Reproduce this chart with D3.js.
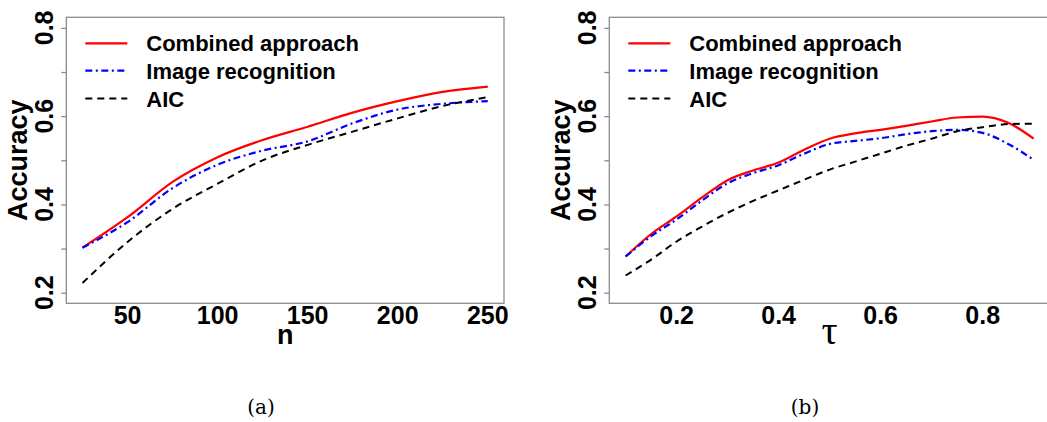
<!DOCTYPE html>
<html>
<head>
<meta charset="utf-8">
<script src="https://cdn.jsdelivr.net/npm/d3@7"></script>
<style>
  html, body { margin: 0; padding: 0; background: #fff; }
  svg { display: block; }
</style>
</head>
<body>
<svg id="chart" width="1047" height="422"></svg>
<script>
// ---- data: accuracy vs sample size n (panel a) ----
const nValues = [25, 50, 75, 100, 125, 150, 175, 200, 225, 250];
const combinedByN = [0.302, 0.371, 0.451, 0.507, 0.546, 0.576, 0.608, 0.634, 0.655, 0.667];
const imageByN    = [0.302, 0.360, 0.437, 0.490, 0.522, 0.543, 0.584, 0.615, 0.628, 0.634];
const aicByN      = [0.222, 0.315, 0.390, 0.447, 0.500, 0.535, 0.565, 0.595, 0.623, 0.643];

// ---- data: accuracy vs threshold tau (panel b) ----
const tauValues = [0.10, 0.15, 0.20, 0.25, 0.30, 0.35, 0.40, 0.45, 0.50, 0.55, 0.60, 0.65, 0.70, 0.75, 0.80, 0.85, 0.90];
const combinedByTau = [0.282, 0.333, 0.373, 0.416, 0.455, 0.477, 0.495, 0.524, 0.549, 0.561, 0.569, 0.578, 0.588, 0.597, 0.599, 0.585, 0.549];
const imageByTau    = [0.282, 0.328, 0.366, 0.409, 0.448, 0.471, 0.489, 0.515, 0.537, 0.544, 0.550, 0.559, 0.566, 0.569, 0.562, 0.537, 0.501];
const aicByTau      = [0.239, 0.275, 0.316, 0.350, 0.381, 0.408, 0.432, 0.456, 0.479, 0.497, 0.515, 0.533, 0.549, 0.566, 0.575, 0.582, 0.583];

// ---- axis ticks and labels ----
const yTicks = [0.2, 0.3, 0.4, 0.5, 0.6, 0.7, 0.8];
const yTickLabels = [0.2, 0.4, 0.6, 0.8];
const nTickLabels = [50, 100, 150, 200, 250];
const tauTickLabels = [0.2, 0.4, 0.6, 0.8];
const seriesNames = ["Combined approach", "Image recognition", "AIC"];
const yLimits = [0.2, 0.8];

const styles = [
  { color: "#ff0000", dash: null, width: 2.2 },
  { color: "#0000ff", dash: "7,3.5,2,3.5", width: 2.2 },
  { color: "#000000", dash: "7,5", width: 2 }
];

const svg = d3.select("#chart");
const font = "'Liberation Sans', Arial, sans-serif";

// R-style axis padding: 4% on each side of the data range
function padded(lo, hi) {
  const p = (hi - lo) * 0.04;
  return [lo - p, hi + p];
}

function drawPanel(opts) {
  const { box, xDomain, xValues, series, xTicks, xFormat, xLabel, xLabelStyle, caption, captionX } = opts;
  const g = svg.append("g");

  const x = d3.scaleLinear().domain(padded(xDomain[0], xDomain[1])).range([box.x0, box.x1]);
  const y = d3.scaleLinear().domain(padded(yLimits[0], yLimits[1])).range([box.y1, box.y0]);

  // curves
  const line = d3.line()
    .x(d => x(d[0]))
    .y(d => y(d[1]))
    .curve(d3.curveMonotoneX);

  series.forEach((vals, i) => {
    const pts = xValues.map((v, j) => [v, vals[j]]);
    g.append("path")
      .datum(pts)
      .attr("d", line)
      .attr("fill", "none")
      .attr("stroke", styles[i].color)
      .attr("stroke-width", styles[i].width)
      .attr("stroke-dasharray", styles[i].dash);
  });

  // plot frame
  g.append("rect")
    .attr("x", box.x0).attr("y", box.y0)
    .attr("width", box.x1 - box.x0).attr("height", box.y1 - box.y0)
    .attr("fill", "none").attr("stroke", "#8c8c8c").attr("stroke-width", 1.3);

  // y axis: ticks on every 0.1, labels on every 0.2 (rotated)
  const yAxis = d3.axisLeft(y).tickValues(yTicks).tickSize(5).tickFormat("");
  const ya = g.append("g").attr("transform", `translate(${box.x0},0)`).call(yAxis);
  ya.select(".domain").remove();
  ya.selectAll(".tick line").attr("stroke", "#8c8c8c").attr("stroke-width", 1.3);

  yTickLabels.forEach(v => {
    g.append("text")
      .attr("transform", `translate(${box.x0 - 13},${y(v)}) rotate(-90)`)
      .attr("text-anchor", "middle")
      .attr("font-family", font).attr("font-weight", "bold").attr("font-size", 25)
      .attr("fill", "#000")
      .text(d3.format(".1f")(v));
  });

  // x axis labels only
  xTicks.forEach(v => {
    g.append("text")
      .attr("x", x(v)).attr("y", 323.5)
      .attr("text-anchor", "middle")
      .attr("font-family", font).attr("font-weight", "bold").attr("font-size", 25)
      .attr("fill", "#000")
      .text(xFormat(v));
  });

  // axis titles
  g.append("text")
    .attr("transform", `translate(${box.x0 - 39},${(box.y0 + box.y1) / 2}) rotate(-90)`)
    .attr("text-anchor", "middle")
    .attr("font-family", font).attr("font-weight", "bold").attr("font-size", 27)
    .attr("fill", "#000")
    .text("Accuracy");

  g.append("text")
    .attr("x", (box.x0 + box.x1) / 2).attr("y", 344)
    .attr("text-anchor", "middle")
    .attr("font-family", xLabelStyle.family).attr("font-weight", xLabelStyle.weight)
    .attr("font-size", xLabelStyle.size)
    .attr("fill", "#000")
    .text(xLabel);

  // legend
  const lx = box.x0 + 19;
  const rows = [43.3, 70.7, 98.5];
  seriesNames.forEach((name, i) => {
    g.append("line")
      .attr("x1", lx).attr("x2", lx + 42)
      .attr("y1", rows[i]).attr("y2", rows[i])
      .attr("stroke", styles[i].color)
      .attr("stroke-width", styles[i].width)
      .attr("stroke-dasharray", styles[i].dash);
    g.append("text")
      .attr("x", lx + 61).attr("y", rows[i] + 8)
      .attr("font-family", font).attr("font-weight", "bold").attr("font-size", 22)
      .attr("fill", "#000")
      .text(name);
  });

  // sub-figure caption
  g.append("text")
    .attr("x", captionX).attr("y", 414)
    .attr("text-anchor", "middle")
    .attr("font-family", "'DejaVu Serif', 'Liberation Serif', serif")
    .attr("font-size", 20)
    .attr("fill", "#000")
    .text(caption);
}

drawPanel({
  box: { x0: 66.3, x1: 504, y0: 17.3, y1: 303.3 },
  xDomain: [25, 250],
  xValues: nValues,
  series: [combinedByN, imageByN, aicByN],
  xTicks: nTickLabels,
  xFormat: d3.format("d"),
  xLabel: "n",
  xLabelStyle: { family: font, weight: "bold", size: 27 },
  caption: "(a)",
  captionX: 261
});

drawPanel({
  box: { x0: 609.3, x1: 1050, y0: 17.3, y1: 303.3 },
  xDomain: [0.1, 0.9],
  xValues: tauValues,
  series: [combinedByTau, imageByTau, aicByTau],
  xTicks: tauTickLabels,
  xFormat: d3.format(".1f"),
  xLabel: "τ",
  xLabelStyle: { family: "'Liberation Serif', 'DejaVu Serif', serif", weight: "normal", size: 40 },
  caption: "(b)",
  captionX: 805
});
</script>
</body>
</html>
